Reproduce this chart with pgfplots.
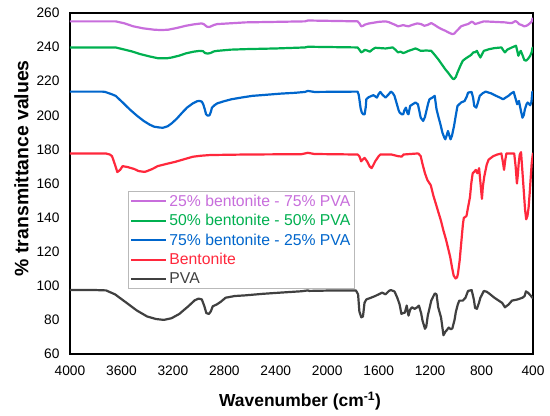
\documentclass[border=0pt]{standalone}
\usepackage{fontspec}
\setmainfont{Liberation Sans}
\usepackage{pgfplots}
\pgfplotsset{compat=1.18}
\definecolor{cpurp}{RGB}{200,110,220}
\definecolor{cgreen}{RGB}{0,176,80}
\definecolor{cblue}{RGB}{0,102,204}
\definecolor{cred}{RGB}{255,40,60}
\definecolor{cgray}{RGB}{64,64,64}
\begin{document}
\begin{tikzpicture}
\begin{axis}[
  name=ax,
  scale only axis,
  width=463bp, height=341bp,
  xmin=400, xmax=4000, ymin=60, ymax=260,
  x dir=reverse,
  xtick={400,800,...,4000},
  ytick={60,80,...,260},
  major tick length=0pt,
  axis line style={line width=2.4bp, black},
  /pgf/number format/assume math mode=true,
  /pgf/number format/1000 sep={},
  ticklabel style={font=\fontsize{13.8}{16}\selectfont, text=black},
  xticklabel style={yshift=-8bp},
  yticklabel style={xshift=-7bp},
  xlabel={\textbf{Wavenumber (cm\textsuperscript{-1})}},
  xlabel style={font=\fontsize{17.5}{20}\selectfont, at={(axis description cs:0.497,0)}, anchor=base, yshift=-52.7bp},
  ylabel={\textbf{\% transmittance values}},
  ylabel style={font=\fontsize{19.5}{22}\selectfont, at={(axis description cs:-0.090,0.545)}, anchor=base, rotate=0},
  legend style={at={(rel axis cs:0.125,0.478)}, anchor=north west, draw=gray!55, line width=0.8bp,
    font=\fontsize{15.8}{18}\selectfont, cells={anchor=west}, inner xsep=2bp, inner ysep=1.5bp, row sep=2.6bp},
  legend cell align=left,
  legend image code/.code={\draw[#1] (0bp,0bp) -- (35bp,0bp);},
  every axis plot/.append style={line width=2.2bp, line join=round},
]
\addplot[cpurp] coordinates {
(4000,255.1)(3645,255.1)(3580,254)(3509,252.2)(3430,251)(3345,250.2)(3290,250)(3236,250.2)(3170,251.2)(3100,252.5)
(3040,253.3)(2977,253.9)(2960,253.5)(2936,252)(2920,251.8)(2909,252)(2880,253)(2855,253.5)(2700,254.2)(2636,254.5)
(2400,254.8)(2173,255.1)(2150,255.6)(1764,255.1)(1750,254)(1736,252.2)(1720,252.5)(1709,253.1)(1680,253.8)(1655,254.1)
(1600,254.8)(1546,255.1)(1520,254.6)(1505,254.1)(1470,253)(1450,252.2)(1430,252.5)(1409,252.9)(1390,252.5)(1368,252.2)
(1340,253)(1300,253.9)(1270,253.5)(1245,252.5)(1220,253)(1191,254.1)(1165,253)(1137,251.6)(1110,250.5)(1082,249.6)
(1055,248.5)(1027,247.6)(1010,248)(1000,249)(980,250.5)(959,252.2)(930,253)(905,253.5)(877,254.9)(865,254.5)
(850,253.5)(820,254.2)(782,255.1)(700,254.8)(618,254.5)(590,254.2)(564,254.1)(536,255.3)(520,254.5)(509,253.5)
(490,253)(468,252.2)(455,252.4)(441,252.9)(422,254.1)(410,255)(405,256.5)(400,257)
};
\addlegendentry{\textcolor{cpurp}{25\% bentonite - 75\% PVA}}
\addplot[cgreen] coordinates {
(4000,239.8)(3645,239.8)(3591,238.8)(3520,237.5)(3454,235.9)(3380,234.5)(3318,233.5)(3250,233.4)(3209,233.9)(3150,235)
(3100,236.3)(3040,237.3)(2991,237.8)(2965,237.6)(2950,236.5)(2930,236.2)(2909,236.5)(2880,237.5)(2855,237.8)(2750,238.5)
(2636,238.8)(2400,239.2)(2173,239.8)(2150,240.2)(1764,239.8)(1750,238.5)(1736,236.9)(1720,237.5)(1709,238.4)(1690,238)
(1668,237.3)(1650,238.5)(1627,239.6)(1546,239.2)(1491,239.8)(1470,238.5)(1450,236.9)(1430,237.3)(1409,236.5)(1390,237)
(1368,237.8)(1340,238.5)(1314,239.2)(1300,238.8)(1273,237.8)(1230,238)(1191,237.8)(1165,235.5)(1137,232.9)(1110,230)
(1082,227)(1060,225)(1041,223.1)(1025,221.5)(1014,221.2)(1000,222.5)(987,225.1)(965,229)(946,232)(920,233.5)
(891,234.9)(880,235.5)(864,236.9)(850,237)(836,237.8)(825,236)(809,233.9)(795,236)(782,237.8)(740,238.8)
(700,239.4)(645,239.8)(630,238)(618,236.9)(600,238.5)(564,239.8)(532,240.8)(520,237)(514,234.9)(505,236.5)
(495,237.8)(480,235)(468,232.5)(455,232)(441,232.9)(430,234)(422,234.9)(410,237)(405,239.2)(400,240)
};
\addlegendentry{\textcolor{cgreen}{50\% bentonite - 50\% PVA}}
\addplot[cblue] coordinates {
(4000,213.9)(3750,213.9)(3727,213.7)(3680,212.5)(3645,211.4)(3590,207.5)(3536,203.5)(3480,199.8)(3427,196.7)(3380,194.5)
(3345,193.3)(3300,192.8)(3277,192.7)(3240,193.6)(3209,195.3)(3170,198)(3127,201.6)(3090,204.5)(3045,207)(3010,208.3)
(2991,208.4)(2975,208)(2964,206.5)(2950,203)(2942,200.6)(2930,199.8)(2915,200)(2905,202)(2896,204.5)(2875,206)
(2855,207)(2800,208.3)(2745,209.4)(2660,210.5)(2582,211.4)(2480,212)(2364,212.7)(2250,213.2)(2173,213.7)(2150,214.3)
(2100,213.7)(1764,213.9)(1755,212)(1750,209.4)(1740,204)(1731,201.6)(1720,200.6)(1709,200.6)(1700,205)(1696,209.4)
(1680,210.5)(1655,211.4)(1640,211.8)(1614,210.4)(1600,212.5)(1587,213.7)(1570,212)(1546,210.4)(1520,212.5)(1505,213.9)
(1490,213)(1477,211.4)(1460,207)(1445,203)(1437,201.6)(1420,200.6)(1409,200.6)(1400,203)(1388,204.5)(1375,201)
(1368,200.6)(1355,205.5)(1335,206.5)(1314,207.5)(1295,206.5)(1285,203)(1273,198.6)(1254,196.7)(1240,199)(1232,201.6)
(1215,207)(1205,209.4)(1180,210.5)(1164,211.4)(1150,203.5)(1135,199)(1123,195.7)(1104,189.8)(1090,187)(1082,185.9)
(1070,188.5)(1061,190.8)(1050,188)(1041,185.9)(1030,188)(1014,193.7)(1000,200)(987,205.5)(959,207.5)(932,208.4)
(915,211)(905,213.3)(877,213.7)(865,210)(857,205.5)(841,204.5)(830,207)(814,211.4)(790,213)(768,213.9)
(727,212.9)(690,211.5)(660,210.5)(632,209.4)(610,210.5)(591,211.4)(570,212.8)(550,213.7)(540,211)(523,206.5)
(509,208.4)(495,203)(482,198.6)(472,200)(463,203.5)(450,206.5)(441,207.5)(422,205.9)(412,208)(405,213.7)(400,214)
};
\addlegendentry{\textcolor{cblue}{75\% bentonite - 25\% PVA}}
\addplot[cred] coordinates {
(4000,177.6)(3720,177.6)(3690,177)(3673,176)(3650,171)(3632,166.7)(3610,168)(3591,170.2)(3550,169.6)(3500,168.5)
(3468,167.3)(3420,166.8)(3400,167.3)(3360,168.5)(3318,170.2)(3250,171.5)(3182,172.7)(3100,174.5)(3045,175.7)(2980,176.3)
(2909,176.7)(2636,177)(2200,177.2)(2150,178)(2100,177.3)(1764,177)(1750,176)(1736,173)(1725,174)(1709,175)
(1690,173)(1670,170)(1655,169)(1640,171)(1627,173)(1600,176)(1587,177)(1500,177)(1447,176)(1420,175.8)
(1407,177)(1300,177.6)(1290,177.5)(1273,176)(1261,172)(1240,166)(1221,162)(1195,159)(1175,153)(1155,148)
(1135,143)(1115,138)(1095,132)(1076,127)(1060,122)(1044,117)(1030,111)(1017,106)(1002,104.3)(990,105)
(983,107.3)(970,115)(957,126)(945,136)(938,139.8)(925,140.5)(917,141)(905,146)(890,152)(880,160)
(869,166)(855,167)(845,168)(832,166)(819,169)(808,160)(797,151)(790,158)(779,164)(760,171)
(745,174)(710,176)(678,177)(646,177.6)(635,173)(625,168)(615,174)(607,177.6)(546,177.6)(535,170)
(525,160)(518,165)(511,172)(503,177)(493,178.4)(485,170)(472,156)(462,145)(453,139)(443,141)
(434,146)(425,155)(419,162)(410,172)(400,178)
};
\addlegendentry{\textcolor{cred}{Bentonite}}
\addplot[cgray] coordinates {
(4000,97.5)(3800,97.5)(3720,97.3)(3650,95)(3560,90)(3480,85.5)(3400,82)(3330,80.5)(3270,80)(3210,81)
(3150,83.5)(3080,88)(3030,91.5)(3000,92.5)(2975,92)(2955,88)(2940,84)(2920,83.5)(2905,85)(2890,88)
(2860,89)(2830,90.5)(2790,93)(2720,94)(2636,94.4)(2500,95.3)(2364,96)(2200,96.8)(2150,97.3)(2140,97)
(2000,97.2)(1850,97.3)(1777,97.3)(1760,95)(1750,85)(1735,81.5)(1722,82)(1710,90)(1696,92)(1660,93)
(1627,94)(1600,95)(1573,96)(1546,95)(1520,97)(1505,97.5)(1477,96.7)(1455,93)(1437,89)(1423,83.5)
(1410,84)(1396,84.3)(1382,88.4)(1368,82.5)(1355,86)(1341,87.4)(1320,86.5)(1300,87.4)(1287,88.4)(1270,84)
(1259,79.6)(1240,74.8)(1230,76)(1218,82.5)(1191,91.3)(1164,95.5)(1150,95)(1137,87.4)(1115,81.4)(1096,71)
(1082,73)(1070,74)(1055,75.5)(1040,74.5)(1027,75)(1010,80)(1000,84.6)(985,89)(973,91.3)(946,91.3)
(925,93)(905,97)(877,97.5)(860,92)(850,87)(836,86.5)(820,90)(809,93)(782,97)(760,96.5)
(741,95.5)(700,93)(660,91)(640,90)(618,87.4)(590,89)(564,91.3)(520,92)(482,93)(465,94)
(455,96.7)(440,96)(427,95)(415,94)(405,93)(400,93.5)
};
\addlegendentry{\textcolor{cgray}{PVA}}
\end{axis}
\pgfresetboundingbox
\path ([shift={(-70bp,-62bp)}]ax.south west) rectangle ([shift={(17bp,13bp)}]ax.north east);
\end{tikzpicture}
\end{document}
